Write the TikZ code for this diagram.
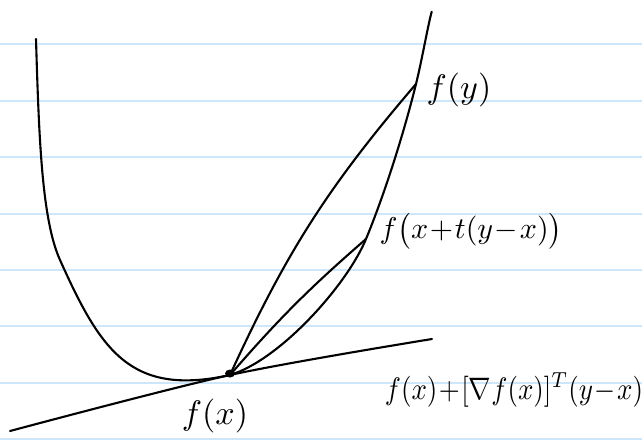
\documentclass[tikz,border=0pt]{standalone}
\usepackage{amsmath,amssymb}
\usetikzlibrary{positioning}
\definecolor{ruled}{RGB}{205,230,250}
\medmuskip=1mu

\begin{document}
\begin{tikzpicture}[x=1pt,y=1pt,
  rule/.style={draw=ruled,line width=2pt},
  curve/.style={draw,line width=2.1pt,line cap=round,line join=round},
  lbl/.style={inner sep=0pt,scale=#1},
  lbl/.default=2.7
]
\useasboundingbox (0,0) rectangle (642,-447);
\foreach \k in {0,...,7}
  \draw[rule] (0,{-44.3-56.4*\k}) -- (642,{-44.3-56.4*\k});
\coordinate (fx) at (230,-375);
\coordinate (fz) at (366,-239);
\coordinate (fy) at (416,-84);
\coordinate (tl) at (10,-431);
\coordinate (tr) at (432,-339);
\draw[curve] (36,-39) .. controls (39,-140) and (42,-220) .. (60,-260)
  .. controls (100.5,-350) and (130,-397) .. (fx)
  .. controls (280,-360) and (347,-285) .. (fz)
  .. controls (385,-193) and (404,-132.5) .. (fy)
  .. controls (422,-59.7) and (428,-25) .. (431.7,-11.7);
\draw[curve] (fx) to[bend left=8] (fy);
\draw[curve] (fx) to[bend left=4] (fz);
\draw[curve] plot[smooth] coordinates {(tl) (fx) (tr)};
\fill ([yshift=1.5pt]fx) ellipse (5 and 4);
\node[lbl=3.4] (ly) at (459,-90) {$f(y)$};
\node[lbl=3.0] (lz) at (471,-231) {$f\bigl(x+t(y-x)\bigr)$};
\node[lbl=3.4] (lx) at (215,-416) {$f(x)$};
\node[lbl,yscale=1.15] (lt) at (514,-390) {$f(x)+[\nabla f(x)]^T(y-x)$};
\end{tikzpicture}
\end{document}
